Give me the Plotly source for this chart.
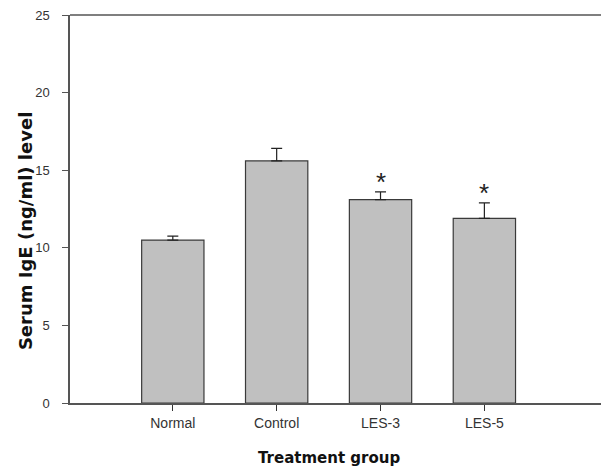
import plotly.graph_objects as go

groups = ["Normal", "Control", "LES-3", "LES-5"]
means = [10.5, 15.6, 13.1, 11.9]
errors = [0.25, 0.8, 0.5, 1.0]
significant = ["", "", "*", "*"]
y_ticks = [0, 5, 10, 15, 20, 25]

fig = go.Figure()
fig.add_trace(go.Bar(
    x=list(range(len(groups))),
    y=means,
    width=0.6,
    marker=dict(color="#c0c0c0", line=dict(color="#3a3a3a", width=1.2)),
    error_y=dict(type="data", symmetric=False, array=errors,
                 arrayminus=[0] * len(errors), color="#222222",
                 thickness=1.2, width=5.5),
    showlegend=False,
))

for i, s in enumerate(significant):
    if s:
        fig.add_annotation(x=i, y=means[i] + errors[i], text=s,
                           showarrow=False, yanchor="bottom", yshift=-7,
                           font=dict(family="Liberation Sans, Arial", size=26, color="#222222"))

# axis titles as annotations (placed as in the reference)
fig.add_annotation(xref="paper", yref="paper", x=0, y=0.443, xshift=-45,
                   text="<b>Serum IgE (ng/ml) level</b>", textangle=-90,
                   showarrow=False, xanchor="center", yanchor="middle",
                   font=dict(family="DejaVu Sans", size=18, color="#111111"))
fig.add_annotation(xref="paper", yref="paper", x=0.4796, y=0, yshift=-55,
                   text="<b>Treatment group</b>",
                   showarrow=False, xanchor="center", yanchor="middle",
                   font=dict(family="DejaVu Sans", size=15, color="#111111"))

# page body has an 8px margin, so the figure is sized/offset to fit the window
fig.update_layout(
    width=601, height=462,
    margin=dict(l=62, r=0, t=7, b=67),
    plot_bgcolor="white", paper_bgcolor="white",
    font=dict(family="Liberation Sans, Arial", size=12, color="#333333"),
)
fig.update_xaxes(
    range=[-0.99, 4.2], automargin=False,
    tickvals=list(range(len(groups))), ticktext=groups,
    ticks="outside", ticklen=6, tickcolor="#333333",
    showline=True, linecolor="#555555", linewidth=1.5, mirror=False,
    showgrid=False, zeroline=False,
    tickfont=dict(size=14, color="#333333"),
)
fig.update_yaxes(
    range=[0, 25], tickvals=y_ticks, automargin=False,
    ticks="outside", ticklen=6, tickcolor="#555555",
    showline=True, linecolor="#555555", linewidth=1.5,
    showgrid=False, zeroline=False,
    ticklabelstandoff=10, ticklabeloverflow="allow",
    tickfont=dict(size=13, color="#333333"),
)
# top border line
fig.add_shape(type="line", xref="paper", yref="paper", x0=0, x1=1, y0=1, y1=1,
              line=dict(color="#555555", width=1.5))

fig.write_html("out.html")
